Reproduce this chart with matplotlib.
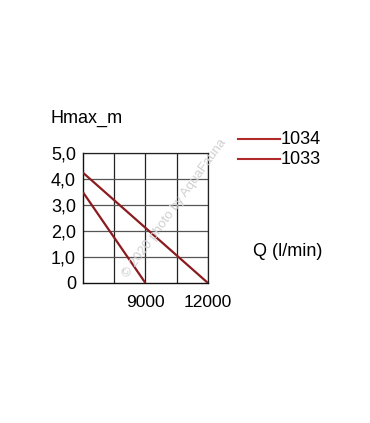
import matplotlib.pyplot as plt

plt.rcParams['font.family'] = ['Liberation Sans', 'DejaVu Sans']

# Data
flow_1034 = [6000, 12000]
head_1034 = [4.25, 0.0]
flow_1033 = [6000, 9000]
head_1033 = [3.5, 0.0]
x_ticks = [9000, 12000]
x_grid = [7500, 9000, 10500, 12000]
y_ticks = [0, 1, 2, 3, 4, 5]
y_labels = ['0', '1,0', '2,0', '3,0', '4,0', '5,0']

fig = plt.figure(figsize=(3.70, 4.23), dpi=100)
ax = fig.add_axes([0.224, 0.331, 0.338, 0.307])

line_color = '#8a1c1f'
ax.plot(flow_1034, head_1034, color=line_color, lw=1.6, solid_capstyle='butt', zorder=3)
ax.plot(flow_1033, head_1033, color=line_color, lw=1.6, solid_capstyle='butt', zorder=3)

ax.set_xlim(6000, 12000)
ax.set_ylim(0, 5)
for xv in x_grid:
    ax.axvline(xv, color='#222222', lw=0.9, zorder=1)
for yv in y_ticks[1:]:
    ax.axhline(yv, color='#555555', lw=0.9, zorder=1)

ax.set_xticks(x_ticks)
ax.set_xticklabels([str(v) for v in x_ticks], fontsize=12.5)
ax.set_yticks(y_ticks)
ax.set_yticklabels(y_labels, fontsize=13)
ax.tick_params(length=0, pad=5)
ax.tick_params(axis='x', pad=9)
for side in ['top', 'right']:
    ax.spines[side].set_color('#222222')
    ax.spines[side].set_linewidth(0.9)
for side in ['left', 'bottom']:
    ax.spines[side].set_color('#111111')
    ax.spines[side].set_linewidth(1.0)

fig.text(50 / 370, 1 - 118 / 423, 'Hmax_m', fontsize=13, ha='left', va='center')
fig.text(253 / 370, 1 - 252 / 423, 'Q (l/min)', fontsize=13, ha='left', va='center')

# legend drawn as short lines with labels
legend_color = '#b02a2a'
for name, ypix in [('1034', 139), ('1033', 159)]:
    yf = 1 - ypix / 423
    fig.add_artist(plt.Line2D([238 / 370, 280 / 370], [yf, yf], color=legend_color, lw=1.5))
    fig.text(281 / 370, yf, name, fontsize=13, ha='left', va='center')

# faint watermark
fig.text(175 / 370, 1 - 208 / 423, '© 2020 photo by AquaFauna', fontsize=9.5,
         color='#d0d0d0', rotation=54, ha='center', va='center', zorder=5)

fig.savefig('out.png', dpi=100, facecolor='white')
